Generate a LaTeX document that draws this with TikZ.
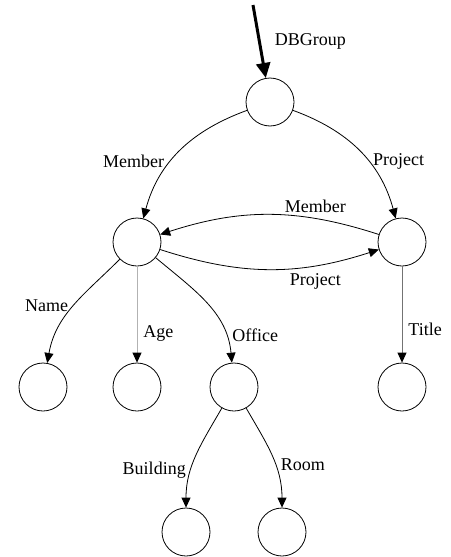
\documentclass[tikz,border=0pt]{standalone}
\usepackage{fontspec}
\setmainfont{Liberation Serif}
\usepackage{tikz}
\usetikzlibrary{arrows.meta, positioning}

\begin{document}
\begin{tikzpicture}[
    x=1pt, y=1pt,
    obj/.style={circle, draw, line width=0.8pt, minimum size=48pt, inner sep=0pt},
    edge/.style={line width=0.8pt, -{Triangle[length=10pt, width=9pt, black]}},
    lbl/.style={font=\fontsize{18}{20}\selectfont, inner sep=2pt}
]
    \useasboundingbox (0,0) rectangle (450,-557);
    \node[obj] (root) at (270,-102) {};
    \node[obj] (mem) at (137,-242) {};
    \node[obj] (proj) at (402,-242) {};
    \node[obj] (name) at (43,-387) {};
    \node[obj] (age) at (137,-387) {};
    \node[obj] (office) at (234,-387) {};
    \node[obj] (title) at (402,-387) {};
    \node[obj] (bldg) at (186,-532) {};
    \node[obj] (room) at (282,-532) {};
    \coordinate (entry) at (253,-5);

    \draw[line width=3pt, -{Triangle[length=15pt, width=14pt]}] (entry) -- (root)
        node[lbl, pos=0.5, right=12pt] {DBGroup};
    \draw[edge] (root) to[out=200, in=75] node[lbl, pos=0.6, left=4pt] {Member} (mem);
    \draw[edge] (root) to[out=-20, in=105] node[lbl, pos=0.6, right=2pt] {Project} (proj);
    \draw[edge] (mem) to[bend right=18] node[lbl, pos=0.72, below=6pt] {Project} (proj);
    \draw[edge] (proj) to[bend right=18] node[lbl, pos=0.28, above=3pt] {Member} (mem);
    \draw[edge] (mem) to[out=225, in=80] node[lbl, pos=0.5, left=3pt] {Name} (name);
    \draw[edge, draw=black!30] (mem) -- node[lbl, pos=0.7, right=4pt] {Age} (age);
    \draw[edge] (mem) to[out=-40, in=95] node[lbl, pos=0.8, right=4pt] {Office} (office);
    \draw[edge, draw=black!55] (proj) -- node[lbl, pos=0.65, right=4pt] {Title} (title);
    \draw[edge] (office) to[out=240, in=90] node[lbl, pos=0.65, left=3pt] {Building} (bldg);
    \draw[edge] (office) to[out=-60, in=90] node[lbl, pos=0.6, right=3pt] {Room} (room);
\end{tikzpicture}
\end{document}
